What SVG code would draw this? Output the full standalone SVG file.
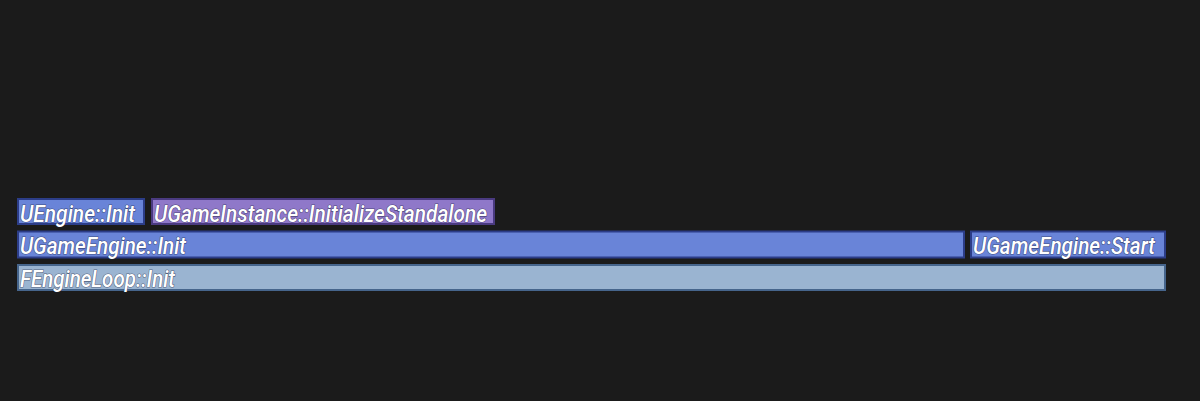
<svg xmlns="http://www.w3.org/2000/svg" width="1200" height="401" viewBox="0 0 1200 401">
<style>
.bg{fill:#1b1b1b}
.blue{fill:#6984d8;stroke:#2c3d88;stroke-width:2}
.purple{fill:#8f78c9;stroke:#4a3a80;stroke-width:2}
.light{fill:#9ab4d1;stroke:#46658c;stroke-width:2}
text{font-family:"Roboto","Liberation Sans",sans-serif;font-style:italic;font-weight:500;font-size:23px;fill:#ffffff;paint-order:stroke;stroke:#1e2440;stroke-width:1.2px;stroke-opacity:0.6}
</style>
<rect class="bg" x="0" y="0" width="1200" height="401"/>
<g id="connectors"></g>
<g id="node-uengine-init">
<rect class="blue" x="18" y="199" width="126" height="25"/>
<text x="20" y="221.5" textLength="115" lengthAdjust="spacingAndGlyphs">UEngine::Init</text>
</g>
<g id="node-ugameinstance-initializestandalone">
<rect class="purple" x="152" y="199" width="342" height="25"/>
<text x="154" y="221.5" textLength="333" lengthAdjust="spacingAndGlyphs">UGameInstance::InitializeStandalone</text>
</g>
<g id="node-ugameengine-init">
<rect class="blue" x="18" y="231.5" width="946" height="26"/>
<text x="20" y="254" textLength="166" lengthAdjust="spacingAndGlyphs">UGameEngine::Init</text>
</g>
<g id="node-ugameengine-start">
<rect class="blue" x="971" y="231.5" width="194" height="26"/>
<text x="973" y="254" textLength="182" lengthAdjust="spacingAndGlyphs">UGameEngine::Start</text>
</g>
<g id="node-fengineloop-init">
<rect class="light" x="18" y="265" width="1147" height="25"/>
<text x="20" y="287" textLength="155" lengthAdjust="spacingAndGlyphs">FEngineLoop::Init</text>
</g>
</svg>
